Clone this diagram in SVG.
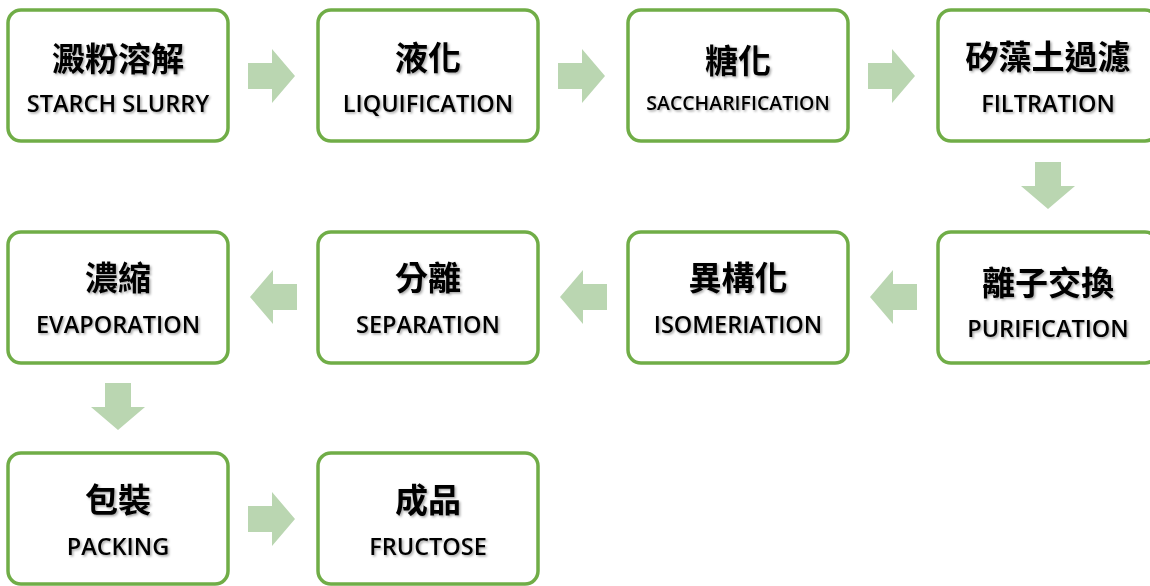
<svg xmlns="http://www.w3.org/2000/svg" width="1150" height="586" viewBox="0 0 1150 586">
<defs>
<filter id="ts" x="-10%" y="-20%" width="130%" height="150%">
<feDropShadow dx="1.5" dy="1.5" stdDeviation="1.2" flood-color="#000" flood-opacity="0.35"/>
</filter>
<path id="ar" d="M0,-13 H24 V-27 L47,0 L24,27 V13 H0 Z"/>
</defs>
<style>
.box{fill:#fff;stroke:#70ad47;stroke-width:3.5}
.zh{font-family:"Noto Sans CJK TC","Noto Sans CJK SC",sans-serif;font-weight:700;font-size:33px;fill:#000;text-anchor:middle;filter:url(#ts)}
.en{font-family:"Open Sans","Noto Sans",sans-serif;font-weight:600;font-size:23.5px;fill:#000;text-anchor:middle;filter:url(#ts)}
.sm{font-size:19.5px}
.arw{fill:#bad6b1}
</style>
<g id="connectors">
<use href="#ar" class="arw" transform="translate(248,76)"/>
<use href="#ar" class="arw" transform="translate(558,76)"/>
<use href="#ar" class="arw" transform="translate(868,76)"/>
<use href="#ar" class="arw" transform="translate(1048,162) rotate(90)"/>
<use href="#ar" class="arw" transform="translate(917,297) rotate(180)"/>
<use href="#ar" class="arw" transform="translate(607,297) rotate(180)"/>
<use href="#ar" class="arw" transform="translate(297,297) rotate(180)"/>
<use href="#ar" class="arw" transform="translate(118,383) rotate(90)"/>
<use href="#ar" class="arw" transform="translate(248,519)"/>
</g>
<g id="n1"><rect class="box" x="8" y="10" width="220" height="131" rx="13"/><text class="zh" x="118" y="71">澱粉溶解</text><text class="en" x="118" y="112">STARCH SLURRY</text></g>
<g id="n2"><rect class="box" x="318" y="10" width="220" height="131" rx="13"/><text class="zh" x="428" y="70">液化</text><text class="en" x="428" y="112">LIQUIFICATION</text></g>
<g id="n3"><rect class="box" x="628" y="10" width="220" height="131" rx="13"/><text class="zh" x="738" y="73">糖化</text><text class="en sm" x="738" y="110">SACCHARIFICATION</text></g>
<g id="n4"><rect class="box" x="938" y="10" width="220" height="131" rx="13"/><text class="zh" x="1048" y="69">矽藻土過濾</text><text class="en" x="1048" y="112">FILTRATION</text></g>
<g id="n5"><rect class="box" x="938" y="232" width="220" height="131" rx="13"/><text class="zh" x="1048" y="295">離子交換</text><text class="en" x="1048" y="337">PURIFICATION</text></g>
<g id="n6"><rect class="box" x="628" y="232" width="220" height="131" rx="13"/><text class="zh" x="738" y="290">異構化</text><text class="en" x="738" y="333">ISOMERIATION</text></g>
<g id="n7"><rect class="box" x="318" y="232" width="220" height="131" rx="13"/><text class="zh" x="428" y="290">分離</text><text class="en" x="428" y="333">SEPARATION</text></g>
<g id="n8"><rect class="box" x="8" y="232" width="220" height="131" rx="13"/><text class="zh" x="118" y="290">濃縮</text><text class="en" x="118" y="333">EVAPORATION</text></g>
<g id="n9"><rect class="box" x="8" y="453" width="220" height="131" rx="13"/><text class="zh" x="118" y="512">包裝</text><text class="en" x="118" y="555">PACKING</text></g>
<g id="n10"><rect class="box" x="318" y="453" width="220" height="131" rx="13"/><text class="zh" x="428" y="512">成品</text><text class="en" x="428" y="555">FRUCTOSE</text></g>
</svg>
